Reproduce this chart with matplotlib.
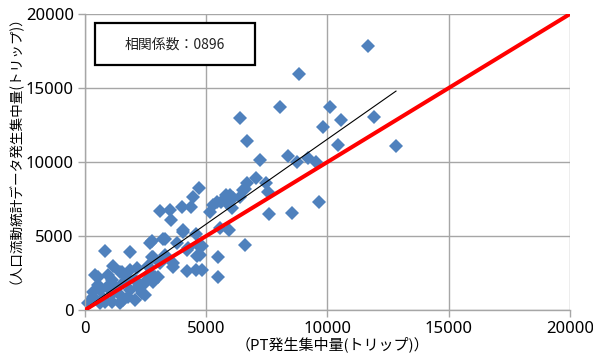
import matplotlib
matplotlib.use("Agg")
import matplotlib.pyplot as plt
from matplotlib.patches import Rectangle
import numpy as np

plt.rcParams["font.family"] = ["Noto Sans CJK JP", "DejaVu Sans"]

# PT survey trips vs. mobile-flow statistics trips, per zone
pt_trips = [
    11670, 8825, 8042, 10104, 10557, 11918, 9815, 6392, 6681, 10433,
    12825, 7217, 8372, 8743, 9196, 9526, 9650, 8536, 7052, 6681,
    7464, 6598, 7547, 5980, 6103, 6392, 5609, 5444, 5856, 6062,
    5155, 7588, 5567, 5939, 4701, 4454, 4371, 4000, 3093, 3505,
    3547, 4042, 4578, 4660, 3299, 2763, 3794, 4206, 4619, 5485,
    5485, 5279, 6598, 4825, 4825, 1856, 825, 2804, 2598, 3093,
    3629, 4206, 4577, 1155, 1443, 536, 948, 1856, 2062, 1567,
    2186, 2557, 2887, 907, 1155, 619, 330, 206, 1237, 1443,
    1773, 742, 1856, 2351, 1113, 619, 1567, 412, 1526, 2144,
    536, 1113, 1732, 330, 2474, 825, 1443, 2062, 124, 2680,
    3217, 4042, 2763, 3299, 4248, 4742, 2680, 3010, 2392, 2804,
    3629, 6516, 5815,
]
flow_trips = [
    17838, 15946, 13716, 13716, 12838, 13041, 12365, 12973, 11419, 11149,
    11081, 10135, 10406, 10000, 10270, 10000, 7297, 6554, 8919, 8581,
    8581, 8176, 7973, 7770, 7568, 7635, 7297, 7297, 7230, 6892,
    6622, 6487, 5541, 5406, 8243, 7635, 6960, 6960, 6689, 6757,
    6081, 5406, 5135, 4392, 4797, 4662, 4527, 4054, 3649, 3581,
    2230, 7095, 4392, 4324, 2703, 3919, 3986, 3581, 2973, 3176,
    2905, 2635, 2703, 2973, 2568, 2230, 2365, 2703, 2027, 1824,
    1554, 2027, 2230, 1554, 1149, 1351, 878, 541, 1554, 1014,
    878, 811, 1351, 1149, 541, 473, 676, 2365, 2568, 2838,
    1689, 2027, 2162, 1216, 1014, 541, 473, 676, 473, 4527,
    4797, 5270, 3581, 3716, 4189, 3716, 2500, 2230, 1689, 1892,
    3176, 8108, 7770,
]

# linear trend of the scatter and the 1:1 reference line
trend_slope = 1.148
trend_intercept = 67
ref_x = [0, 20000]
ref_y = [0, 20000]

corr_label = "相関係数：0896"
x_label = "（PT発生集中量(トリップ)）"
y_label = "（人口流動統計データ発生集中量(トリップ)）"
ticks = [0, 5000, 10000, 15000, 20000]

x = np.array(pt_trips)
y = np.array(flow_trips)

fig = plt.figure(figsize=(5.93, 3.58), dpi=100)
ax = fig.add_axes([0.1433, 0.1341, 0.8179, 0.8268])

ax.plot(x, y, linestyle="none", marker="D", markersize=6.8,
        color="#4F81BD", markeredgewidth=0, zorder=2, clip_on=False)

tx = np.array([x.min(), x.max()])
ax.plot(tx, trend_slope * tx + trend_intercept, color="black", lw=0.8, zorder=3)
ax.plot(ref_x, ref_y, color="#FF0000", lw=2.9, zorder=4, solid_capstyle="butt")

ax.set_xlim(0, 20000)
ax.set_ylim(0, 20000)
ax.set_xticks(ticks)
ax.set_yticks(ticks)
ax.grid(True, color="#A6A6A6", lw=1.0)
ax.set_axisbelow(True)
for side in ("top", "right"):
    ax.spines[side].set_visible(False)
for side in ("left", "bottom"):
    ax.spines[side].set_color("#A6A6A6")
    ax.spines[side].set_linewidth(1.0)
ax.tick_params(direction="out", length=5, width=1.0, color="#A6A6A6",
               labelsize=12, pad=3, labelfontfamily="Noto Sans")

ax.set_xlabel(x_label, fontsize=10.8)
ax.xaxis.set_label_coords(0.511, -0.088)
ax.set_ylabel(y_label, fontsize=9.8)
ax.yaxis.set_label_coords(-0.142, 0.564)

# correlation annotation box
ax.add_patch(Rectangle((0.0206, 0.8277), 0.33, 0.142, transform=ax.transAxes,
                       fc="white", ec="black", lw=1.6, zorder=5))
ax.text(0.1856, 0.895, corr_label, transform=ax.transAxes, fontsize=10,
        ha="center", va="center", color="#222222", zorder=6)

fig.savefig("out.png", dpi=100)
